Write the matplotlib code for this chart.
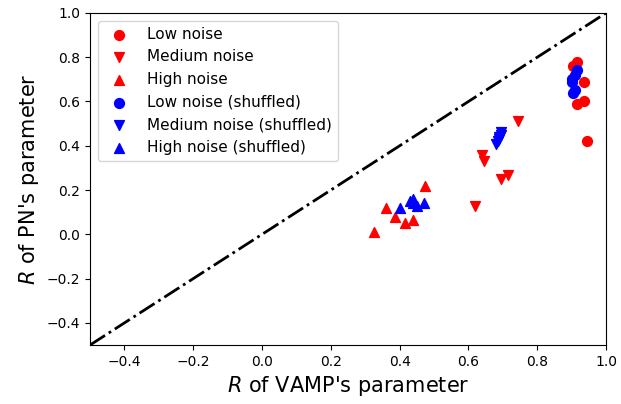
import matplotlib
matplotlib.use('Agg')
import matplotlib.pyplot as plt

# low noise (circles)
low_x = [0.905, 0.915, 0.935, 0.935, 0.915, 0.945]
low_y = [0.76, 0.78, 0.69, 0.60, 0.59, 0.42]
low_sh_x = [0.915, 0.91, 0.90, 0.91, 0.905, 0.90]
low_sh_y = [0.74, 0.72, 0.70, 0.65, 0.64, 0.69]

# medium noise (down triangles)
med_x = [0.745, 0.64, 0.645, 0.715, 0.695, 0.62]
med_y = [0.51, 0.36, 0.33, 0.27, 0.25, 0.13]
med_sh_x = [0.695, 0.69, 0.685, 0.68, 0.69, 0.695]
med_sh_y = [0.46, 0.44, 0.42, 0.41, 0.43, 0.45]

# high noise (up triangles)
high_x = [0.475, 0.36, 0.385, 0.415, 0.44, 0.325]
high_y = [0.22, 0.12, 0.08, 0.05, 0.065, 0.01]
high_sh_x = [0.40, 0.43, 0.44, 0.45, 0.47, 0.44]
high_sh_y = [0.12, 0.15, 0.16, 0.13, 0.14, 0.14]

fig = plt.figure(figsize=(6.21, 4.04), dpi=100)
ax = fig.add_axes([0.145, 0.146, 0.831, 0.822])

ax.scatter(low_x, low_y, c='r', marker='o', s=50, label='Low noise')
ax.scatter(med_x, med_y, c='r', marker='v', s=50, label='Medium noise')
ax.scatter(high_x, high_y, c='r', marker='^', s=50, label='High noise')
ax.scatter(low_sh_x, low_sh_y, c='b', marker='o', s=50, label='Low noise (shuffled)')
ax.scatter(med_sh_x, med_sh_y, c='b', marker='v', s=50, label='Medium noise (shuffled)')
ax.scatter(high_sh_x, high_sh_y, c='b', marker='^', s=50, label='High noise (shuffled)')

ax.plot([-0.5, 1.0], [-0.5, 1.0], 'k-.', linewidth=2)

ax.set_xlim(-0.5, 1.0)
ax.set_ylim(-0.5, 1.0)
ax.set_xticks([-0.4, -0.2, 0.0, 0.2, 0.4, 0.6, 0.8, 1.0])
ax.set_yticks([-0.4, -0.2, 0.0, 0.2, 0.4, 0.6, 0.8, 1.0])
ax.set_xlabel("$R$ of VAMP's parameter", fontsize=15)
ax.set_ylabel("$R$ of PN's parameter", fontsize=15)
ax.legend(loc='upper left', fontsize=11)

fig.savefig('out.png', dpi=100)
